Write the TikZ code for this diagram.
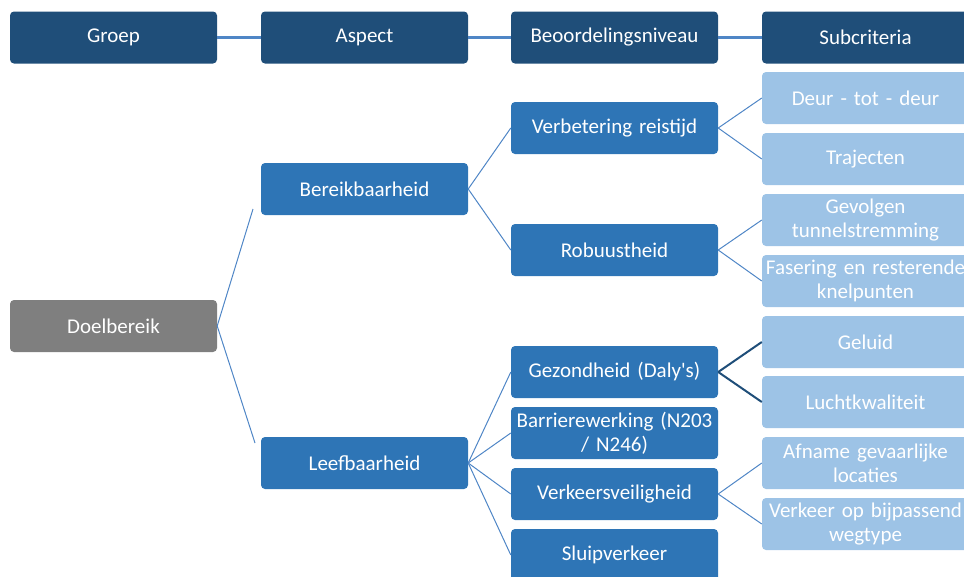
\documentclass[tikz,border=0pt]{standalone}
\usepackage{fontspec}
\setmainfont[WordSpace=0.8]{Carlito}
\definecolor{headBlue}{HTML}{1F4E79}
\definecolor{midBlue}{HTML}{2E75B6}
\definecolor{lightBlue}{HTML}{9DC3E6}
\definecolor{lineBlue}{HTML}{4F86C6}
\definecolor{greyBox}{HTML}{7F7F7F}
\begin{document}
\begin{tikzpicture}[x=1pt, y=-1pt,
    boxStyle/.style={rounded corners=4pt, minimum width=207pt, minimum height=52pt, inner sep=1pt,
        text width=205pt, align=center, text=white, font=\fontsize{21}{24}\selectfont},
    headStyle/.style={boxStyle, fill=headBlue},
    groupStyle/.style={boxStyle, fill=greyBox},
    levelStyle/.style={boxStyle, fill=midBlue},
    subStyle/.style={boxStyle, fill=lightBlue},
    edgeStyle/.style={draw=lineBlue, line width=1pt},
    headEdge/.style={draw=lineBlue, line width=3pt},
    darkEdge/.style={draw=headBlue, line width=2pt}]
    \useasboundingbox (0,0) rectangle (964,576);
    \clip (0,0) rectangle (964,576);

    % Header
    \node[headStyle] (groep) at (113.5, 37.5) {Groep};
    \node[headStyle] (aspect) at (364.5, 37.5) {Aspect};
    \node[headStyle] (niveau) at (614.5, 37.5) {Beoordelingsniveau};
    \node[headStyle] (sub) at (865.5, 37.5) {Subcriteria};

    % Groep
    \node[groupStyle] (doel) at (113.5, 326) {Doelbereik};

    % Aspect
    \node[levelStyle] (bereik) at (364.5, 189) {Bereikbaarheid};
    \node[levelStyle] (leef) at (364.5, 463) {Leefbaarheid};
    \coordinate (bereikIn) at (253, 209);
    \coordinate (leefIn) at (255, 443);

    % Beoordelingsniveau
    \node[levelStyle] (reistijd) at (614.5, 128) {Verbetering reistijd};
    \node[levelStyle] (robuust) at (614.5, 250) {Robuustheid};
    \node[levelStyle] (gezond) at (614.5, 372) {Gezondheid (Daly\textquotesingle s)};
    \node[levelStyle] (barriere) at (614.5, 433) {Barrierewerking (N203\\ / N246)};
    \node[levelStyle] (veilig) at (614.5, 494) {Verkeersveiligheid};
    \node[levelStyle] (sluip) at (614.5, 555) {Sluipverkeer};

    % Subcriteria
    \node[subStyle] (deur) at (865.5, 98) {Deur - tot - deur};
    \node[subStyle] (traject) at (865.5, 159) {Trajecten};
    \node[subStyle] (gevolg) at (865.5, 220) {Gevolgen\\ tunnelstremming};
    \node[subStyle] (fasering) at (865.5, 281) {Fasering en resterende\\ knelpunten};
    \node[subStyle] (geluid) at (865.5, 342) {Geluid};
    \node[subStyle] (lucht) at (865.5, 402) {Luchtkwaliteit};
    \node[subStyle] (afname) at (865.5, 463) {Afname gevaarlijke\\ locaties};
    \node[subStyle] (wegtype) at (865.5, 524) {Verkeer op bijpassend\\ wegtype};

    % Edges
    \draw[headEdge] (groep) -- (aspect);
    \draw[headEdge] (aspect) -- (niveau);
    \draw[headEdge] (niveau) -- (sub);

    \draw[edgeStyle] (doel.east) -- (bereikIn);
    \draw[edgeStyle] (doel.east) -- (leefIn);

    \draw[edgeStyle] (bereik.east) -- (reistijd.west);
    \draw[edgeStyle] (bereik.east) -- (robuust.west);
    \draw[edgeStyle] (leef.east) -- (gezond.west);
    \draw[edgeStyle] (leef.east) -- (barriere.west);
    \draw[edgeStyle] (leef.east) -- (veilig.west);
    \draw[edgeStyle] (leef.east) -- (sluip.west);

    \draw[edgeStyle] (reistijd.east) -- (deur.west);
    \draw[edgeStyle] (reistijd.east) -- (traject.west);
    \draw[edgeStyle] (robuust.east) -- (gevolg.west);
    \draw[edgeStyle] (robuust.east) -- (fasering.west);
    \draw[darkEdge] (gezond.east) -- (geluid.west);
    \draw[darkEdge] (gezond.east) -- (lucht.west);
    \draw[edgeStyle] (veilig.east) -- (afname.west);
    \draw[edgeStyle] (veilig.east) -- (wegtype.west);
\end{tikzpicture}
\end{document}
